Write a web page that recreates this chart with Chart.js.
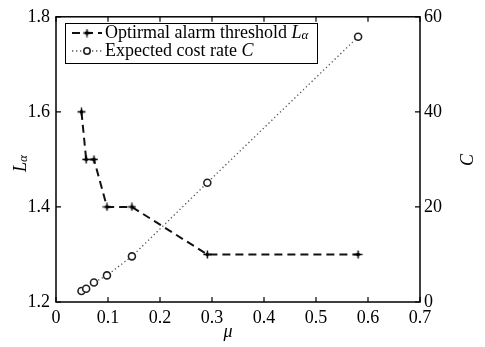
<!DOCTYPE html>
<html>
<head>
<meta charset="utf-8">
<script src="https://cdn.jsdelivr.net/npm/chart.js@4.4.0/dist/chart.umd.min.js"></script>
<style>
  html, body { margin: 0; padding: 0; background: #fff; }
  #wrap { width: 485px; height: 347px; position: relative; }
</style>
</head>
<body>
<div id="wrap"><canvas id="chart"></canvas></div>
<script>
// data
const muValues = [0.049, 0.058, 0.073, 0.098, 0.146, 0.291, 0.581];
const alarmThreshold = [1.6, 1.5, 1.5, 1.4, 1.4, 1.3, 1.3];
const costRate = [2.3, 2.8, 4.1, 5.6, 9.6, 25.1, 55.8];

// tick values
const xTicks = [0, 0.1, 0.2, 0.3, 0.4, 0.5, 0.6, 0.7];
const leftTicks = [1.2, 1.4, 1.6, 1.8];
const rightTicks = [0, 20, 40, 60];

const seriesLabels = ['Optirmal alarm threshold ', 'Expected cost rate '];

const FONT = "'Liberation Serif', 'Times New Roman', serif";

// marker: plus sign with a small filled diamond
function makePlusMarker() {
  const c = document.createElement('canvas');
  c.width = 9; c.height = 9;
  const g = c.getContext('2d');
  g.strokeStyle = '#000'; g.fillStyle = '#000'; g.lineWidth = 1.4;
  g.beginPath();
  g.moveTo(4.5, 0.5); g.lineTo(4.5, 8.5);
  g.moveTo(0.5, 4.5); g.lineTo(8.5, 4.5);
  g.stroke();
  g.beginPath();
  g.moveTo(4.5, 2); g.lineTo(7, 4.5); g.lineTo(4.5, 7); g.lineTo(2, 4.5);
  g.closePath(); g.fill();
  return c;
}
const plusMarker = makePlusMarker();

function toPoints(xs, ys) {
  return xs.map((x, i) => ({ x: x, y: ys[i] }));
}

// draws "L" + subscript alpha, or a plain italic letter, starting at x
function drawSymbol(ctx, sym, x, y, size) {
  ctx.font = 'italic ' + size + 'px ' + FONT;
  ctx.fillText(sym, x, y);
  let w = ctx.measureText(sym).width;
  if (sym === 'L') {
    ctx.font = 'italic ' + Math.round(size * 0.7) + 'px ' + FONT;
    ctx.fillText('\u03b1', x + w, y + 3);
    w += ctx.measureText('\u03b1').width;
  }
  return w;
}

const decorPlugin = {
  id: 'decor',
  afterDraw(chart) {
    const ctx = chart.ctx;
    const a = chart.chartArea;
    const xs = chart.scales.x, yl = chart.scales.y, yr = chart.scales.y1;
    ctx.save();
    ctx.strokeStyle = '#000';
    ctx.fillStyle = '#000';

    // box
    ctx.lineWidth = 1.5;
    ctx.strokeRect(a.left, a.top, a.right - a.left, a.bottom - a.top);

    // inward ticks
    ctx.lineWidth = 1.2;
    ctx.beginPath();
    xTicks.forEach(v => {
      const px = xs.getPixelForValue(v);
      ctx.moveTo(px, a.bottom); ctx.lineTo(px, a.bottom - 5);
      ctx.moveTo(px, a.top); ctx.lineTo(px, a.top + 5);
    });
    leftTicks.forEach(v => {
      const py = yl.getPixelForValue(v);
      ctx.moveTo(a.left, py); ctx.lineTo(a.left + 5, py);
    });
    rightTicks.forEach(v => {
      const py = yr.getPixelForValue(v);
      ctx.moveTo(a.right, py); ctx.lineTo(a.right - 5, py);
    });
    ctx.stroke();

    // legend box
    const lx = 65, ly = 23, lw = 252, lh = 40;
    ctx.fillStyle = '#fff';
    ctx.fillRect(lx, ly, lw, lh);
    ctx.lineWidth = 1;
    ctx.strokeStyle = '#000';
    ctx.strokeRect(lx + 0.5, ly + 0.5, lw, lh);

    const rows = [ly + 10, ly + 28];
    chart.data.datasets.forEach((ds, i) => {
      const ry = rows[i];
      ctx.save();
      ctx.strokeStyle = ds.borderColor;
      ctx.lineWidth = ds.borderWidth;
      ctx.setLineDash(ds.borderDash);
      ctx.beginPath();
      ctx.moveTo(lx + 7, ry); ctx.lineTo(lx + 37, ry);
      ctx.stroke();
      ctx.restore();
      if (i === 0) {
        ctx.drawImage(plusMarker, lx + 22 - 4.5, ry - 4.5);
      } else {
        ctx.save();
        ctx.fillStyle = '#fff';
        ctx.strokeStyle = ds.pointBorderColor;
        ctx.lineWidth = ds.pointBorderWidth;
        ctx.beginPath();
        ctx.arc(lx + 22, ry, 3.2, 0, Math.PI * 2);
        ctx.fill(); ctx.stroke();
        ctx.restore();
      }
      ctx.fillStyle = '#000';
      ctx.textBaseline = 'middle';
      ctx.textAlign = 'left';
      ctx.font = '18px ' + FONT;
      ctx.fillText(ds.label, lx + 40, ry);
      const tw = ctx.measureText(ds.label).width;
      drawSymbol(ctx, i === 0 ? 'L' : 'C', lx + 40 + tw, ry, 18);
    });

    // axis titles
    ctx.fillStyle = '#000';
    ctx.textBaseline = 'middle';
    ctx.textAlign = 'left';
    ctx.save();
    ctx.translate(21, 163);
    ctx.rotate(-Math.PI / 2);
    drawSymbol(ctx, 'L', -9, 0, 18);
    ctx.restore();

    ctx.save();
    ctx.translate(468, 160);
    ctx.rotate(-Math.PI / 2);
    drawSymbol(ctx, 'C', -6, 0, 18);
    ctx.restore();

    ctx.textAlign = 'center';
    ctx.font = 'italic 18px ' + FONT;
    ctx.fillText('\u03bc', 228, 332);

    ctx.restore();
  }
};

const tickFont = { family: FONT, size: 18 };

const chart = new Chart(document.getElementById('chart'), {
  type: 'line',
  data: {
    datasets: [
      {
        label: seriesLabels[0],
        data: toPoints(muValues, alarmThreshold),
        yAxisID: 'y',
        borderColor: '#111',
        borderWidth: 2,
        borderDash: [8, 5],
        pointStyle: plusMarker,
        pointBorderColor: '#000',
        pointBorderWidth: 1,
        fill: false,
        tension: 0
      },
      {
        label: seriesLabels[1],
        data: toPoints(muValues, costRate),
        yAxisID: 'y1',
        borderColor: '#555',
        borderWidth: 1.3,
        borderDash: [1.3, 2.7],
        pointStyle: 'circle',
        pointRadius: 3.5,
        pointBackgroundColor: '#fff',
        pointBorderColor: '#222',
        pointBorderWidth: 1.6,
        fill: false,
        tension: 0
      }
    ]
  },
  options: {
    responsive: true,
    maintainAspectRatio: false,
    animation: false,
    devicePixelRatio: 1,
    layout: { padding: { top: 15, left: 0, right: 0, bottom: 0 } },
    plugins: {
      legend: { display: false },
      tooltip: { enabled: false }
    },
    scales: {
      x: {
        type: 'linear',
        min: 0, max: 0.7,
        grid: { display: false, drawTicks: false },
        border: { display: false },
        afterBuildTicks: s => { s.ticks = xTicks.map(v => ({ value: v })); },
        afterFit: s => { s.height = 45; },
        ticks: {
          color: '#000',
          font: tickFont,
          padding: 5,
          maxRotation: 0,
          callback: v => (v === 0 ? '0' : v.toFixed(1))
        }
      },
      y: {
        type: 'linear',
        position: 'left',
        min: 1.2, max: 1.8,
        grid: { display: false, drawTicks: false },
        border: { display: false },
        afterBuildTicks: s => { s.ticks = leftTicks.map(v => ({ value: v })); },
        afterFit: s => { s.width = 56; },
        ticks: {
          color: '#000',
          font: tickFont,
          padding: 6,
          callback: v => v.toFixed(1)
        }
      },
      y1: {
        type: 'linear',
        position: 'right',
        min: 0, max: 60,
        grid: { display: false, drawTicks: false },
        border: { display: false },
        afterBuildTicks: s => { s.ticks = rightTicks.map(v => ({ value: v })); },
        afterFit: s => { s.width = 65; },
        ticks: {
          color: '#000',
          font: tickFont,
          padding: 4,
          callback: v => String(v)
        }
      }
    }
  },
  plugins: [decorPlugin]
});
</script>
</body>
</html>
